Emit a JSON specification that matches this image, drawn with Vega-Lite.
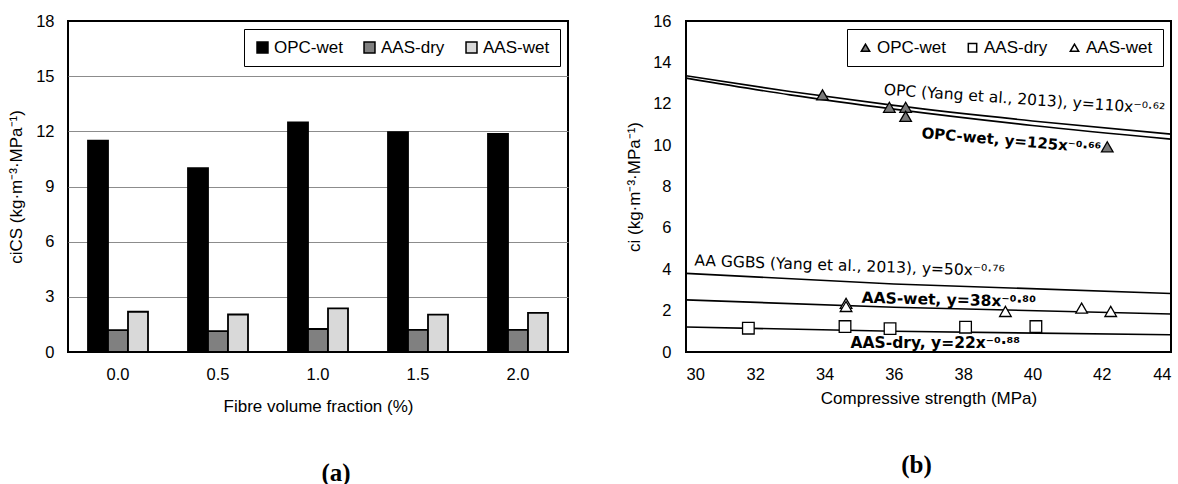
{
  "$schema": "https://vega.github.io/schema/vega-lite/v6.json",
  "background": "white",
  "padding": {"left": 6, "top": 12, "right": 5, "bottom": 0},
  "spacing": 55,
  "config": {
    "font": "Liberation Sans",
    "view": {"stroke": "black", "strokeWidth": 2},
    "axis": {
      "labelFont": "Liberation Sans", "labelFontSize": 16.5, "labelColor": "black",
      "titleFont": "Liberation Sans", "titleFontSize": 17, "titleFontWeight": "normal", "titleColor": "black",
      "ticks": false, "domain": false, "grid": false
    },
    "legend": {
      "labelFont": "Liberation Sans", "labelFontSize": 17, "labelColor": "black",
      "strokeColor": "black", "fillColor": "white", "padding": 10,
      "labelOffset": 3, "columnPadding": 18, "offset": 8
    }
  },
  "datasets": {
    "bars": [
      {"fraction": "0.0", "series": "OPC-wet", "value": 11.5},
      {"fraction": "0.0", "series": "AAS-dry", "value": 1.19},
      {"fraction": "0.0", "series": "AAS-wet", "value": 2.19},
      {"fraction": "0.5", "series": "OPC-wet", "value": 10.0},
      {"fraction": "0.5", "series": "AAS-dry", "value": 1.14},
      {"fraction": "0.5", "series": "AAS-wet", "value": 2.04},
      {"fraction": "1.0", "series": "OPC-wet", "value": 12.49},
      {"fraction": "1.0", "series": "AAS-dry", "value": 1.25},
      {"fraction": "1.0", "series": "AAS-wet", "value": 2.37},
      {"fraction": "1.5", "series": "OPC-wet", "value": 11.95},
      {"fraction": "1.5", "series": "AAS-dry", "value": 1.2},
      {"fraction": "1.5", "series": "AAS-wet", "value": 2.03},
      {"fraction": "2.0", "series": "OPC-wet", "value": 11.86},
      {"fraction": "2.0", "series": "AAS-dry", "value": 1.2},
      {"fraction": "2.0", "series": "AAS-wet", "value": 2.13}
    ],
    "lines": [
      {"line": "OPC Yang", "x": 30, "y": 13.35},
      {"line": "OPC Yang", "x": 33, "y": 12.59},
      {"line": "OPC Yang", "x": 36, "y": 11.92},
      {"line": "OPC Yang", "x": 40, "y": 11.17},
      {"line": "OPC Yang", "x": 44, "y": 10.53},
      {"line": "OPC-wet", "x": 30, "y": 13.24},
      {"line": "OPC-wet", "x": 33, "y": 12.43},
      {"line": "OPC-wet", "x": 36, "y": 11.74},
      {"line": "OPC-wet", "x": 40, "y": 10.95},
      {"line": "OPC-wet", "x": 44, "y": 10.29},
      {"line": "AA GGBS", "x": 30, "y": 3.8},
      {"line": "AA GGBS", "x": 36, "y": 3.29},
      {"line": "AA GGBS", "x": 44, "y": 2.83},
      {"line": "AAS-wet", "x": 30, "y": 2.52},
      {"line": "AAS-wet", "x": 36, "y": 2.16},
      {"line": "AAS-wet", "x": 44, "y": 1.84},
      {"line": "AAS-dry", "x": 30, "y": 1.21},
      {"line": "AAS-dry", "x": 36, "y": 1.0},
      {"line": "AAS-dry", "x": 44, "y": 0.83}
    ],
    "points": [
      {"series": "OPC-wet", "x": 33.94, "y": 12.43},
      {"series": "OPC-wet", "x": 35.87, "y": 11.83},
      {"series": "OPC-wet", "x": 36.34, "y": 11.83},
      {"series": "OPC-wet", "x": 36.34, "y": 11.39},
      {"series": "OPC-wet", "x": 42.16, "y": 9.92},
      {"series": "AAS-dry", "x": 31.8, "y": 1.15},
      {"series": "AAS-dry", "x": 34.59, "y": 1.23},
      {"series": "AAS-dry", "x": 35.89, "y": 1.13},
      {"series": "AAS-dry", "x": 38.07, "y": 1.2},
      {"series": "AAS-dry", "x": 40.1, "y": 1.23},
      {"series": "AAS-wet", "x": 34.62, "y": 2.35},
      {"series": "AAS-wet", "x": 34.62, "y": 2.2},
      {"series": "AAS-wet", "x": 39.22, "y": 1.96},
      {"series": "AAS-wet", "x": 41.42, "y": 2.12},
      {"series": "AAS-wet", "x": 42.26, "y": 1.96}
    ],
    "notes": [
      {"key": "opcyang", "label": "OPC (Yang et al., 2013), y=110x⁻⁰·⁶²", "x": 35.71, "y": 12.68},
      {"key": "opcwet", "label": "OPC-wet, y=125x⁻⁰·⁶⁶", "x": 36.8, "y": 10.59},
      {"key": "ggbs", "label": "AA GGBS (Yang et al., 2013), y=50x⁻⁰·⁷⁶", "x": 30.24, "y": 4.42},
      {"key": "aaswet", "label": "AAS-wet, y=38x⁻⁰·⁸⁰", "x": 35.07, "y": 2.62},
      {"key": "aasdry", "label": "AAS-dry, y=22x⁻⁰·⁸⁸", "x": 34.75, "y": 0.43}
    ]
  },
  "hconcat": [
    {
      "width": 500,
      "height": 331,
      "title": {"text": "(a)", "orient": "bottom", "anchor": "middle", "font": "Liberation Serif", "fontSize": 25, "fontWeight": "bold", "color": "black", "offset": 46, "dx": 18},
      "data": {"name": "bars"},
      "mark": {"type": "bar", "stroke": "black", "strokeWidth": 1.8},
      "encoding": {
        "x": {"field": "fraction", "type": "nominal", "sort": null,
              "scale": {"paddingInner": 0.4, "paddingOuter": 0.2},
              "axis": {"title": "Fibre volume fraction (%)", "labelAngle": 0, "labelPadding": 14, "titlePadding": 16}},
        "xOffset": {"field": "series", "type": "nominal", "sort": ["OPC-wet", "AAS-dry", "AAS-wet"]},
        "y": {"field": "value", "type": "quantitative",
              "scale": {"domain": [0, 18], "nice": false},
              "axis": {"values": [0, 3, 6, 9, 12, 15, 18], "grid": true,
                       "gridColor": {"condition": {"test": "datum.value === 0 || datum.value === 18", "value": "black"}, "value": "#8c8c8c"},
                       "gridWidth": 1.2,
                       "title": "ciCS (kg·m⁻³·MPa⁻¹)", "labelPadding": 14, "titlePadding": 10}},
        "color": {"field": "series", "type": "nominal", "sort": ["OPC-wet", "AAS-dry", "AAS-wet"],
                  "scale": {"domain": ["OPC-wet", "AAS-dry", "AAS-wet"], "range": ["#000000", "#808080", "#d9d9d9"]},
                  "legend": {"title": null, "orient": "top-right", "direction": "horizontal", "columns": 3,
                             "symbolType": "square", "symbolSize": 120,
                             "encode": {"legend": {"update": {"strokeWidth": {"value": 2}}},
                                        "symbols": {"update": {"stroke": {"value": "black"}, "strokeWidth": {"value": 1.5}}}}}}
      }
    },
    {
      "width": 485,
      "height": 331,
      "title": {"text": "(b)", "orient": "bottom", "anchor": "middle", "font": "Liberation Serif", "fontSize": 25, "fontWeight": "bold", "color": "black", "offset": 46, "dx": -12},
      "layer": [
        {
          "data": {"name": "lines"},
          "mark": {"type": "line", "color": "black", "strokeWidth": 1.6, "interpolate": "monotone"},
          "encoding": {
            "x": {"field": "x", "type": "quantitative", "scale": {"domain": [30, 44], "nice": false},
                  "axis": {"values": [30, 32, 34, 36, 38, 40, 42, 44], "title": "Compressive strength (MPa)", "labelPadding": 14, "titlePadding": 8}},
            "y": {"field": "y", "type": "quantitative", "scale": {"domain": [0, 16], "nice": false},
                  "axis": {"values": [0, 2, 4, 6, 8, 10, 12, 14, 16], "title": "ci (kg·m⁻³·MPa⁻¹)", "labelPadding": 15, "titlePadding": 9}},
            "detail": {"field": "line", "type": "nominal"}
          }
        },
        {
          "data": {"name": "points"},
          "mark": {"type": "point", "filled": true, "stroke": "black", "strokeWidth": 1.3, "size": 135, "opacity": 1},
          "encoding": {
            "x": {"field": "x", "type": "quantitative"},
            "y": {"field": "y", "type": "quantitative"},
            "shape": {"field": "series", "type": "nominal", "sort": ["OPC-wet", "AAS-dry", "AAS-wet"],
                      "scale": {"domain": ["OPC-wet", "AAS-dry", "AAS-wet"], "range": ["triangle-up", "square", "triangle-up"]},
                      "legend": {"title": null, "orient": "top-right", "direction": "horizontal", "columns": 3, "symbolSize": 70,
                                 "encode": {"legend": {"update": {"strokeWidth": {"value": 2}}},
                                            "symbols": {"update": {"stroke": {"value": "black"}, "strokeWidth": {"value": 1.2}}}}}},
            "fill": {"field": "series", "type": "nominal", "sort": ["OPC-wet", "AAS-dry", "AAS-wet"],
                     "scale": {"domain": ["OPC-wet", "AAS-dry", "AAS-wet"], "range": ["#7a7a7a", "#ffffff", "#ffffff"]},
                     "legend": {"title": null, "orient": "top-right", "direction": "horizontal", "columns": 3, "symbolSize": 70,
                                "encode": {"legend": {"update": {"strokeWidth": {"value": 2}}},
                                           "symbols": {"update": {"stroke": {"value": "black"}, "strokeWidth": {"value": 1.2}}}}}}
          }
        },
        {
          "data": {"name": "notes"},
          "transform": [{"filter": "datum.key === 'opcyang'"}],
          "mark": {"type": "text", "align": "left", "baseline": "middle", "font": "DejaVu Sans", "fontSize": 15.5, "angle": 4, "color": "black"},
          "encoding": {"x": {"field": "x", "type": "quantitative"}, "y": {"field": "y", "type": "quantitative"}, "text": {"field": "label"}}
        },
        {
          "data": {"name": "notes"},
          "transform": [{"filter": "datum.key === 'opcwet'"}],
          "mark": {"type": "text", "align": "left", "baseline": "middle", "font": "DejaVu Sans", "fontSize": 15, "fontWeight": "bold", "angle": 5, "color": "black"},
          "encoding": {"x": {"field": "x", "type": "quantitative"}, "y": {"field": "y", "type": "quantitative"}, "text": {"field": "label"}}
        },
        {
          "data": {"name": "notes"},
          "transform": [{"filter": "datum.key === 'ggbs'"}],
          "mark": {"type": "text", "align": "left", "baseline": "middle", "font": "DejaVu Sans", "fontSize": 15.5, "angle": 2, "color": "black"},
          "encoding": {"x": {"field": "x", "type": "quantitative"}, "y": {"field": "y", "type": "quantitative"}, "text": {"field": "label"}}
        },
        {
          "data": {"name": "notes"},
          "transform": [{"filter": "datum.key === 'aaswet'"}],
          "mark": {"type": "text", "align": "left", "baseline": "middle", "font": "DejaVu Sans", "fontSize": 15.5, "fontWeight": "bold", "angle": 1.4, "color": "black"},
          "encoding": {"x": {"field": "x", "type": "quantitative"}, "y": {"field": "y", "type": "quantitative"}, "text": {"field": "label"}}
        },
        {
          "data": {"name": "notes"},
          "transform": [{"filter": "datum.key === 'aasdry'"}],
          "mark": {"type": "text", "align": "left", "baseline": "middle", "font": "DejaVu Sans", "fontSize": 15.5, "fontWeight": "bold", "angle": 0, "color": "black"},
          "encoding": {"x": {"field": "x", "type": "quantitative"}, "y": {"field": "y", "type": "quantitative"}, "text": {"field": "label"}}
        }
      ]
    }
  ],
  "resolve": {
    "scale": {"color": "independent", "shape": "independent", "fill": "independent", "x": "independent", "y": "independent"},
    "legend": {"color": "independent", "shape": "independent", "fill": "independent"}
  }
}
